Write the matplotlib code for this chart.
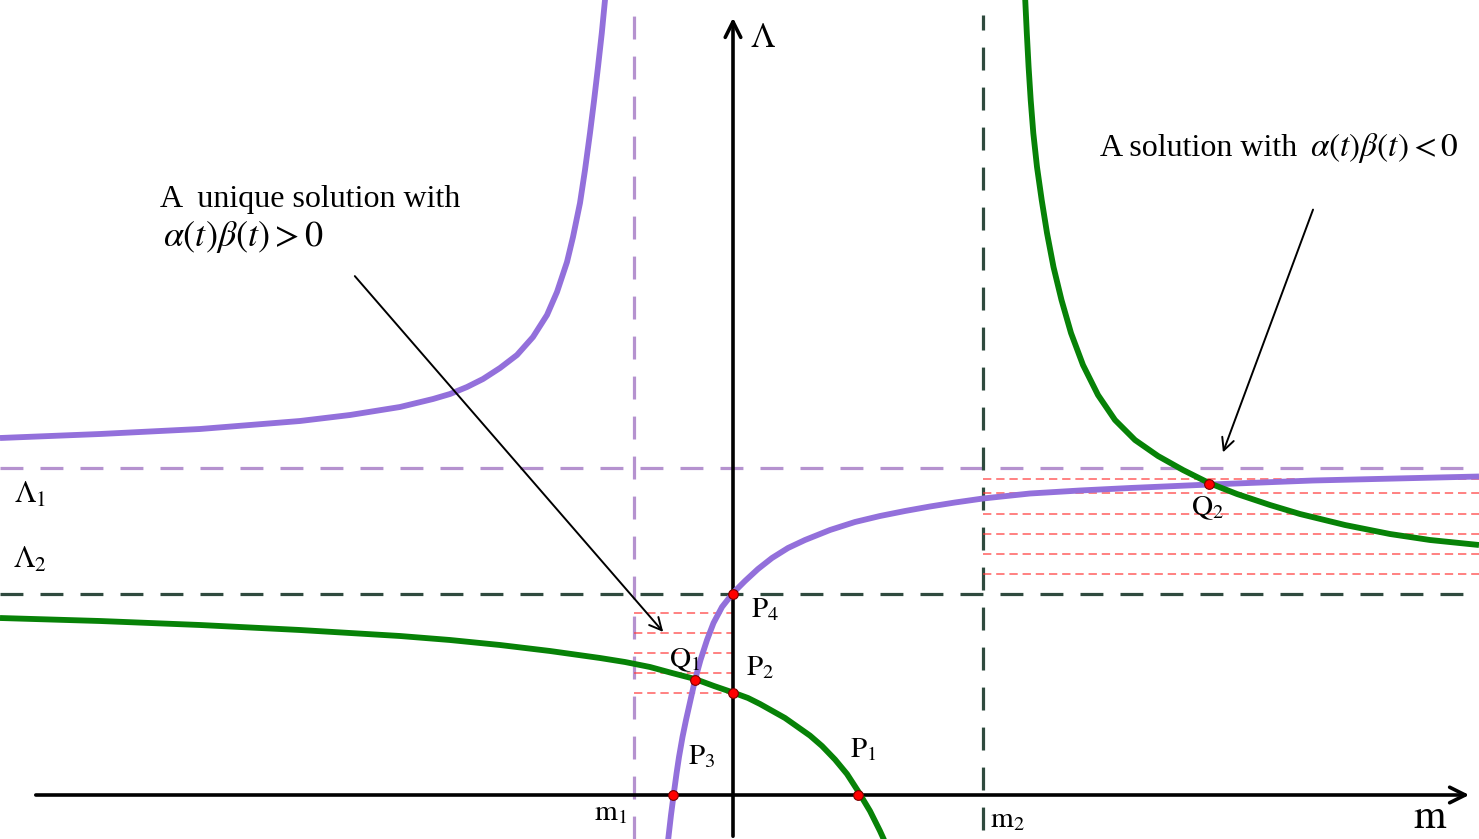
import matplotlib.pyplot as plt

plt.rcParams['mathtext.fontset'] = 'stix'
plt.rcParams['font.family'] = ['Liberation Serif', 'DejaVu Serif']
plt.rcParams['lines.scale_dashes'] = False

# frame: m along the horizontal axis, Lambda up; origin where the axes cross
m1, m2 = -0.99, 2.50
lam1, lam2 = 3.27, 2.01

# purple curve, two branches
purple_left_m = [-7.330, -6.330, -5.330, -4.330, -3.830, -3.330, -3.000, -2.830, -2.660,
                 -2.500, -2.330, -2.160, -2.000, -1.860, -1.760, -1.660, -1.600, -1.530,
                 -1.480, -1.430, -1.390, -1.350, -1.312, -1.280, -1.270]
purple_left_l = [3.570, 3.610, 3.660, 3.740, 3.800, 3.880, 3.960, 4.010, 4.080,
                 4.160, 4.270, 4.400, 4.580, 4.800, 5.030, 5.330, 5.580, 5.920,
                 6.250, 6.620, 6.940, 7.280, 7.620, 7.950, 8.030]
purple_right_m = [-0.650, -0.620, -0.590, -0.564, -0.540, -0.505, -0.470, -0.425, -0.380,
                  -0.325, -0.260, -0.195, -0.110, 0.000, 0.120, 0.250, 0.390, 0.550,
                  0.720, 0.970, 1.220, 1.470, 1.720, 1.970, 2.220, 2.500, 2.970,
                  3.470, 3.970, 4.770, 5.800, 7.460]
purple_right_l = [-0.460, -0.200, 0.030, 0.220, 0.380, 0.580, 0.750, 0.950, 1.150,
                  1.350, 1.550, 1.720, 1.880, 2.020, 2.140, 2.260, 2.370, 2.470,
                  2.550, 2.650, 2.730, 2.790, 2.840, 2.885, 2.925, 2.965, 3.015,
                  3.045, 3.070, 3.105, 3.145, 3.185]

# green curve, two branches
green_left_m = [-7.330, -6.330, -5.330, -4.330, -3.830, -3.330, -2.830, -2.330, -1.830,
                -1.330, -1.080, -0.830, -0.610, -0.380, -0.190, 0.000, 0.150, 0.270,
                0.520, 0.770, 0.890, 1.020, 1.140, 1.250, 1.370, 1.470, 1.520]
green_left_l = [1.770, 1.740, 1.700, 1.650, 1.620, 1.590, 1.550, 1.500, 1.440,
                1.370, 1.330, 1.280, 1.220, 1.160, 1.090, 1.025, 0.970, 0.910,
                0.770, 0.594, 0.490, 0.355, 0.210, 0.040, -0.160, -0.360, -0.470]
green_right_m = [2.920, 2.938, 2.956, 2.977, 3.003, 3.040, 3.087, 3.140, 3.205, 3.285,
                 3.380, 3.500, 3.650, 3.820, 4.020, 4.250, 4.500, 4.760, 5.040, 5.370,
                 5.670, 6.120, 6.570, 6.970, 7.460]
green_right_l = [8.000, 7.620, 7.280, 6.950, 6.620, 6.280, 5.950, 5.620, 5.280, 4.950,
                 4.620, 4.300, 4.000, 3.750, 3.550, 3.390, 3.250, 3.120, 3.010, 2.900,
                 2.810, 2.700, 2.610, 2.550, 2.500]

# red dashed levels
left_levels = [1.82, 1.62, 1.42, 1.22, 1.02]
right_levels = [3.16, 3.02, 2.81, 2.61, 2.41, 2.21]

# marked points
pt_names = ['P4', 'Q1', 'P2', 'P3', 'P1', 'Q2']
pt_m = [0.00, -0.38, 0.00, -0.60, 1.25, 4.76]
pt_l = [2.01, 1.15, 1.02, 0.00, 0.00, 3.11]

xmin, xmax = -7.33, 7.46
ymin, ymax = -0.44, 7.95

purple = '#9370db'
light_purple = '#b592cf'
green = '#078207'
dark = '#2f4a3e'

fig = plt.figure(figsize=(14.79, 8.39), dpi=100)
ax = fig.add_axes([0, 0, 1, 1])
ax.set_xlim(xmin, xmax)
ax.set_ylim(ymin, ymax)
ax.axis('off')

dash = (16.5, 12.3)
ax.axvline(m1, color=light_purple, lw=2.3, dashes=dash, zorder=1)
ax.axhline(lam1, color=light_purple, lw=2.3, dashes=dash, zorder=1)
ax.plot([m2, m2], [-0.35, 7.80], color=dark, lw=2.3, dashes=dash, zorder=1)
ax.axhline(lam2, color=dark, lw=2.3, dashes=dash, zorder=1)

for lv in left_levels:
    ax.plot([m1, 0], [lv, lv], color='#ff3838', lw=1.1, dashes=(6, 3.5), alpha=0.8, zorder=1)
for lv in right_levels:
    ax.plot([m2, xmax], [lv, lv], color='#ff3838', lw=1.1, dashes=(6, 3.5), alpha=0.8, zorder=1)

# axes with arrow heads
ax.annotate('', xy=(7.39, 0), xytext=(-7.00, 0),
            arrowprops=dict(arrowstyle='->', lw=2.6, color='black', mutation_scale=28), zorder=2)
ax.annotate('', xy=(0, 7.80), xytext=(0, ymin),
            arrowprops=dict(arrowstyle='->', lw=2.6, color='black', mutation_scale=28), zorder=2)

for bm, bl, col in [(purple_left_m, purple_left_l, purple),
                    (purple_right_m, purple_right_l, purple),
                    (green_left_m, green_left_l, green),
                    (green_right_m, green_right_l, green)]:
    ax.plot(bm, bl, color=col, lw=4.2, solid_joinstyle='round', solid_capstyle='butt', zorder=3)

ax.plot(pt_m, pt_l, 'o', color='#ff0000', mec='#7a0000', mew=0.8, ms=7, zorder=5)

# labels
fs = 21
ax.text(0.30, 7.57, r'$\Lambda$', fontsize=25, ha='center', va='center')
ax.text(-7.03, 3.00, r'$\Lambda_1$', fontsize=22, ha='center', va='center')
ax.text(-7.03, 2.35, r'$\Lambda_2$', fontsize=22, ha='center', va='center')
ax.text(0.32, 1.85, r'$\mathrm{P}_4$', fontsize=fs, ha='center', va='center')
ax.text(-0.48, 1.35, r'$\mathrm{Q}_1$', fontsize=fs, ha='center', va='center')
ax.text(0.27, 1.27, r'$\mathrm{P}_2$', fontsize=fs, ha='center', va='center')
ax.text(-0.31, 0.38, r'$\mathrm{P}_3$', fontsize=fs, ha='center', va='center')
ax.text(1.30, 0.45, r'$\mathrm{P}_1$', fontsize=fs, ha='center', va='center')
ax.text(4.75, 2.87, r'$\mathrm{Q}_2$', fontsize=fs, ha='center', va='center')
ax.text(-1.22, -0.18, r'$\mathrm{m}_1$', fontsize=fs, ha='center', va='center')
ax.text(2.74, -0.25, r'$\mathrm{m}_2$', fontsize=fs, ha='center', va='center')
ax.text(6.97, -0.23, r'$\mathrm{m}$', fontsize=30, ha='center', va='center')

ax.text(-5.73, 5.96, 'A  unique solution with', fontsize=23, ha='left', va='center')
ax.text(-5.70, 5.58, r'$\alpha(t)\beta(t)>0$', fontsize=26, ha='left', va='center')
ax.text(3.67, 6.47, 'A solution with', fontsize=23, ha='left', va='center')
ax.text(5.77, 6.47, r'$\alpha(t)\beta(t)<0$', fontsize=24, ha='left', va='center')

ax.annotate('', xy=(-0.68, 1.61), xytext=(-3.80, 5.21),
            arrowprops=dict(arrowstyle='->', lw=1.4, color='black', mutation_scale=22), zorder=6)
ax.annotate('', xy=(4.89, 3.40), xytext=(5.81, 5.88),
            arrowprops=dict(arrowstyle='->', lw=1.4, color='black', mutation_scale=22), zorder=6)

fig.savefig('out.png', dpi=100)
